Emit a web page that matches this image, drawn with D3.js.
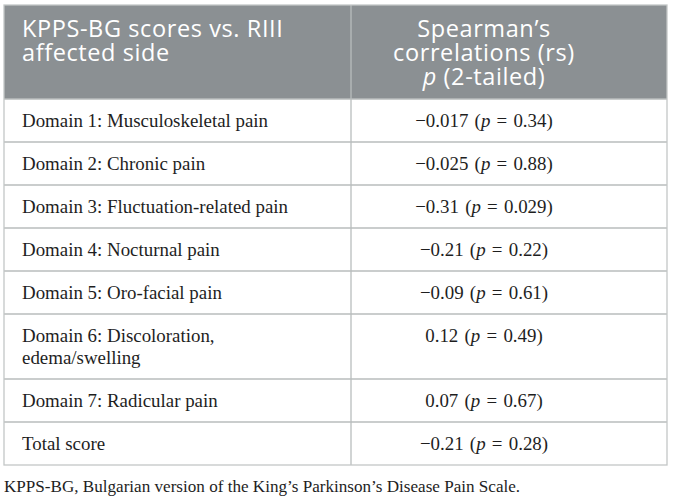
<!DOCTYPE html>
<html>
<head>
<meta charset="utf-8">
<script src="https://cdn.jsdelivr.net/npm/d3@7"></script>
<style>
  body { margin: 0; background: #fff; }
</style>
</head>
<body>
<div id="table-container"></div>
<script>
// table contents
var headLeft = ["KPPS-BG scores vs. RIII", "affected side"];
var headRight = ["Spearman\u2019s", "correlations (rs)", "p (2-tailed)"];
var domains = [
  ["Domain 1: Musculoskeletal pain"],
  ["Domain 2: Chronic pain"],
  ["Domain 3: Fluctuation-related pain"],
  ["Domain 4: Nocturnal pain"],
  ["Domain 5: Oro-facial pain"],
  ["Domain 6: Discoloration,", "edema/swelling"],
  ["Domain 7: Radicular pain"],
  ["Total score"]
];
var rsValues = [-0.017, -0.025, -0.31, -0.21, -0.09, 0.12, 0.07, -0.21];
var pValues = [0.34, 0.88, 0.029, 0.22, 0.61, 0.49, 0.67, 0.28];
var footnote = "KPPS-BG, Bulgarian version of the King\u2019s Parkinson\u2019s Disease Pain Scale.";

const W = 673, H = 501;
const left = 4, right = 667, mid = 351;
const headTop = 5, headBottom = 99;
const lineH = 22, rowPad = 21;
const valueX = 484;

var fmt = d3.format("");

var svg = d3.select("#table-container").append("svg")
  .attr("width", W).attr("height", H);

// row tops from cumulative line counts
var tops = [headBottom];
domains.forEach(function(d, i){ tops.push(tops[i] + rowPad + lineH * d.length); });
var bottom = tops[tops.length - 1];

// header
svg.append("rect")
  .attr("x", left).attr("y", headTop)
  .attr("width", right - left).attr("height", headBottom - headTop)
  .attr("fill", "#8b9093");

var head = svg.append("g")
  .attr("font-family", "'Open Sans', sans-serif")
  .attr("font-size", 23.5).attr("letter-spacing", 0.6).attr("fill", "#fff");

head.selectAll("text.hl").data(headLeft).enter().append("text")
  .attr("class", "hl")
  .attr("x", 22).attr("y", (d, i) => 37 + i * 24)
  .text(d => d);

head.selectAll("text.hr").data(headRight).enter().append("text")
  .attr("class", "hr")
  .attr("x", valueX).attr("y", (d, i) => 36.5 + i * 24)
  .attr("text-anchor", "middle")
  .each(function(d){
    var t = d3.select(this);
    if (d.indexOf("p ") === 0) {
      t.append("tspan").attr("font-style", "italic").text("p");
      t.append("tspan").text(d.slice(1));
    } else t.text(d);
  });

// grid lines
var grid = svg.append("g").attr("stroke", "#b9bdbd").attr("stroke-width", 1.3).attr("fill", "none");
grid.selectAll("line.row").data(tops.slice(0, -1)).enter().append("line")
  .attr("x1", left).attr("x2", right)
  .attr("y1", d => d).attr("y2", d => d);
grid.append("line").attr("x1", mid).attr("x2", mid).attr("y1", headTop).attr("y2", bottom);
grid.append("rect")
  .attr("x", left).attr("y", headTop)
  .attr("width", right - left).attr("height", bottom - headTop)
  .attr("stroke", "#c3c7c7");

// body rows
var body = svg.append("g")
  .attr("font-family", "'Liberation Serif', 'Times New Roman', serif")
  .attr("font-size", 18.9).attr("fill", "#1e1e1e");

var rows = body.selectAll("g.row").data(domains).enter().append("g")
  .attr("class", "row")
  .attr("transform", (d, i) => `translate(0, ${tops[i]})`);

rows.selectAll("text.lab").data(d => d).enter().append("text")
  .attr("class", "lab")
  .attr("x", 22).attr("y", (d, i) => 28 + i * lineH)
  .text(d => d);

rows.append("text")
  .attr("x", valueX).attr("y", 28)
  .attr("text-anchor", "middle")
  .attr("word-spacing", 1.5)
  .each(function(d, i){
    var t = d3.select(this);
    t.append("tspan").text(fmt(rsValues[i]) + " (");
    t.append("tspan").attr("font-style", "italic").text("p");
    t.append("tspan").text(" = " + fmt(pValues[i]) + ")");
  });

// footnote
svg.append("text")
  .attr("x", 4).attr("y", bottom + 27)
  .attr("font-family", "'Liberation Serif', 'Times New Roman', serif")
  .attr("font-size", 17.1).attr("fill", "#1e1e1e")
  .text(footnote);
</script>
</body>
</html>
